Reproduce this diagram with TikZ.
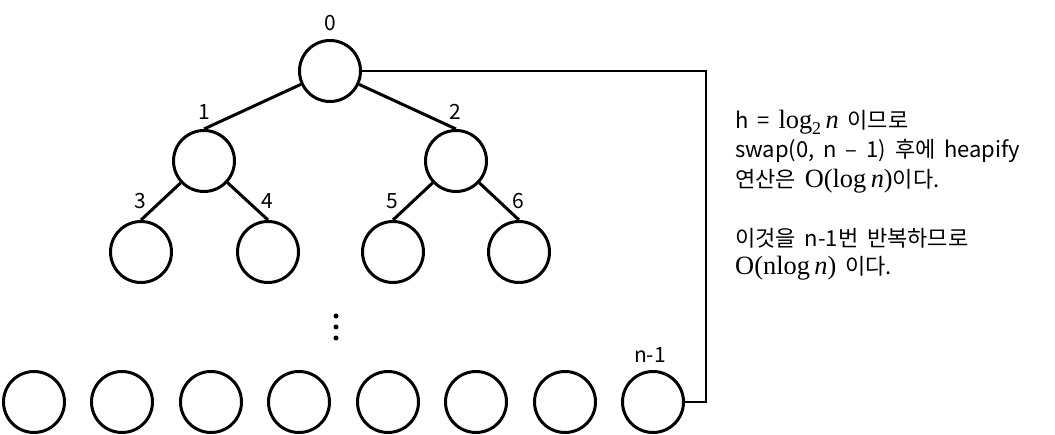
\documentclass[tikz,border=0pt]{standalone}
\usepackage[no-math]{fontspec}
\setmainfont{Noto Sans CJK KR}
\newfontfamily\txtfont[WordSpace=1.8]{Noto Sans CJK KR}
\newfontfamily\mserif[Scale=1.2]{Liberation Serif}
\newcommand{\msub}[1]{\raisebox{-0.22em}{\fontsize{15}{15}\selectfont #1}}
\begin{document}
\begin{tikzpicture}[x=1pt,y=-1pt,
  heapnode/.style={circle, draw, line width=3pt, minimum size=61pt, inner sep=0pt},
  lbl/.style={font=\fontsize{21}{25}\selectfont, inner sep=0pt},
  txt/.style={font=\txtfont\fontsize{22}{26}\selectfont, inner sep=0pt, anchor=base west},
  edge/.style={line width=3pt},
  conn/.style={line width=2pt},
  dotmark/.style={circle, fill, inner sep=0pt, minimum size=5pt}]
\useasboundingbox (0,0) rectangle (1055,435);
% tree nodes
\node[heapnode] (r) at (330,71) {};
\node[heapnode] (n1) at (204,161) {};
\node[heapnode] (n2) at (456,161) {};
\node[heapnode] (n3) at (141,252) {};
\node[heapnode] (n4) at (268,252) {};
\node[heapnode] (n5) at (393,252) {};
\node[heapnode] (n6) at (519,252) {};
% bottom row
\foreach \i/\x in {1/34,2/122,3/211,4/299,5/388,6/476,7/565,8/653}
  \node[heapnode] (b\i) at (\x,402) {};
% edges
\draw[edge] (r) -- (n1.north);
\draw[edge] (r) -- (n2.north);
\draw[edge] (n1) -- (n3.north);
\draw[edge] (n1) -- (n4.north);
\draw[edge] (n2) -- (n5.north);
\draw[edge] (n2) -- (n6.north);
% connector root -> last
\coordinate (c) at (706,71);
\draw[conn] (r.east) -- (c) |- (b8.east);
% labels
\node[lbl] (l0) at (330,23) {0};
\node[lbl] (l1) at (204,112) {1};
\node[lbl] (l2) at (455,112) {2};
\node[lbl] (l3) at (140,201) {3};
\node[lbl] (l4) at (267,201) {4};
\node[lbl] (l5) at (392,201) {5};
\node[lbl] (l6) at (518,201) {6};
\node[lbl] (ln) at (650,355) {n-1};
% vertical dots
\node[dotmark] (d1) at (336,316) {};
\node[dotmark] (d2) at (336,327) {};
\node[dotmark] (d3) at (336,338) {};
% text block
\node[txt] (t1) at (735,129) {h = {\mserif log\msub{2}\,\itshape n} 이므로};
\node[txt] (t2) at (735,158) {swap(0, n – 1) 후에 heapify};
\node[txt] (t3) at (735,188) {연산은 {\mserif O(log\,{\itshape n})}이다.};
\node[txt] (t4) at (735,247) {이것을 n-1번 반복하므로};
\node[txt] (t5) at (735,275) {{\mserif O(nlog\,{\itshape n})} 이다.};
\end{tikzpicture}
\end{document}
